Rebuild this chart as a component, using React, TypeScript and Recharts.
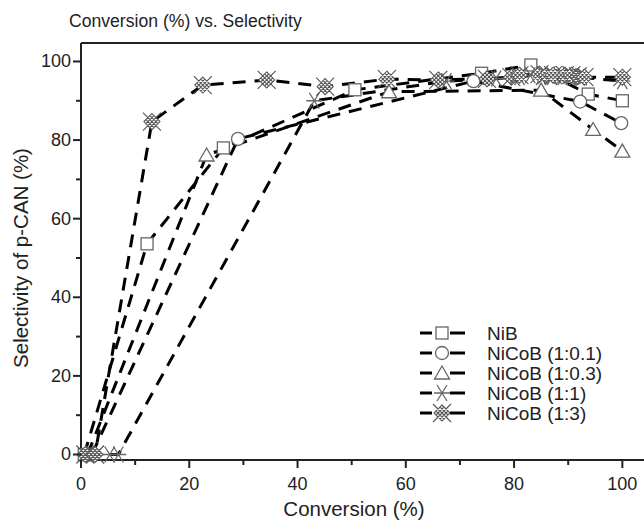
import React from "react";
import { LineChart, Line, XAxis, YAxis, ReferenceLine } from "recharts";

const FONT = "'Liberation Sans', Arial, Helvetica, sans-serif";
const TXT = "#222";
const MK = "#666";

const xTicks = [0, 10, 20, 30, 40, 50, 60, 70, 80, 90, 100];
const yTicks = [0, 10, 20, 30, 40, 50, 60, 70, 80, 90, 100];

const nibX = [0.6, 12.2, 26.3, 50.6, 74, 83.1, 93.7, 100];
const nibY = [0, 53.6, 78, 92.8, 97, 99.1, 91.7, 90];

const c01X = [2, 29, 72.5, 92.2, 99.8];
const c01Y = [0, 80.3, 95, 89.8, 84.3];

const c03X = [1.2, 23.2, 56.9, 85, 94.6, 100];
const c03Y = [0, 76.2, 92.3, 92.7, 82.7, 77.2];

const c11X = [5.3, 6.9, 43.1, 67.5, 76.7, 81, 83, 85, 87, 89, 90.5, 92, 100];
const c11Y = [0, 0, 90, 95, 95.7, 96, 96.5, 96, 96, 96, 96, 96, 95];

const c13X = [0.8, 2.6, 13.1, 22.5, 34.3, 45.1, 56.5, 66, 75, 79.5, 81, 84.7, 86, 87.2, 89.4, 90.6, 91.8, 93, 100];
const c13Y = [0, 0, 84.7, 94, 95.3, 93.6, 95.5, 95.3, 95.6, 96, 96.5, 96.8, 96.5, 96.5, 96.5, 96.5, 96.2, 96, 96];

const seriesNames = ["NiB", "NiCoB (1:0.1)", "NiCoB (1:0.3)", "NiCoB (1:1)", "NiCoB (1:3)"];

const toPts = (xs: number[], ys: number[]) => xs.map((x, i) => ({ x, y: ys[i] }));

type Kind = "square" | "circle" | "triangle" | "star" | "hatch";

function Marker({ cx, cy, kind }: { cx: number; cy: number; kind: Kind }) {
  if (kind === "square")
    return <rect x={cx - 6} y={cy - 6} width={12} height={12} fill="#fff" stroke={MK} strokeWidth={1.3} />;
  if (kind === "circle") return <circle cx={cx} cy={cy} r={6.5} fill="#fff" stroke={MK} strokeWidth={1.3} />;
  if (kind === "triangle")
    return (
      <path
        d={`M${cx},${cy - 7} L${cx + 7.5},${cy + 6} L${cx - 7.5},${cy + 6} Z`}
        fill="#fff"
        stroke={MK}
        strokeWidth={1.3}
      />
    );
  if (kind === "star")
    return (
      <path
        d={`M${cx - 8},${cy} L${cx + 8},${cy} M${cx - 5},${cy - 8} L${cx + 5},${cy + 8} M${cx + 5},${cy - 8} L${cx - 5},${cy + 8}`}
        stroke={MK}
        strokeWidth={1.3}
        fill="none"
      />
    );
  const s = 8;
  const q = s / 2;
  return (
    <path
      d={`M${cx - 9},${cy - 9} L${cx + 9},${cy + 9} M${cx + 9},${cy - 9} L${cx - 9},${cy + 9}
          M${cx},${cy - s} L${cx + s},${cy} L${cx},${cy + s} L${cx - s},${cy} Z
          M${cx - s + q / 2},${cy - q / 2} L${cx + q / 2},${cy + s - q / 2}
          M${cx - q / 2},${cy - s + q / 2} L${cx + s - q / 2},${cy + q / 2}
          M${cx + s - q / 2},${cy - q / 2} L${cx - q / 2},${cy + s - q / 2}
          M${cx + q / 2},${cy - s + q / 2} L${cx - s + q / 2},${cy + q / 2}`}
      stroke="#555"
      strokeWidth={1.1}
      fill="#fff"
    />
  );
}

const kinds: Kind[] = ["square", "circle", "triangle", "star", "hatch"];
const datas = [toPts(nibX, nibY), toPts(c01X, c01Y), toPts(c03X, c03Y), toPts(c11X, c11Y), toPts(c13X, c13Y)];

const XTick = (props: any) => {
  const { x, y, payload } = props;
  const v = payload.value as number;
  const major = v % 20 === 0;
  return (
    <g>
      <line x1={x} y1={y} x2={x} y2={y + (major ? 8 : 5)} stroke={TXT} strokeWidth={2} />
      {major && (
        <text x={x} y={y + 30} textAnchor="middle" fontSize={18} fill={TXT} fontFamily={FONT}>
          {v}
        </text>
      )}
    </g>
  );
};

const YTick = (props: any) => {
  const { x, y, payload } = props;
  const v = payload.value as number;
  const major = v % 20 === 0;
  return (
    <g>
      <line x1={x} y1={y} x2={x - (major ? 8 : 5)} y2={y} stroke={TXT} strokeWidth={2} />
      {major && (
        <text x={x - 10} y={y + 6} textAnchor="end" fontSize={18} fill={TXT} fontFamily={FONT}>
          {v}
        </text>
      )}
    </g>
  );
};

const LegendBlock = () => (
  <g transform="translate(420,325)">
    {seriesNames.map((n, i) => {
      const cy = 8 + i * 20;
      return (
        <g key={n}>
          <line x1={0} y1={cy} x2={12} y2={cy} stroke="#000" strokeWidth={3} />
          <line x1={30} y1={cy} x2={45} y2={cy} stroke="#000" strokeWidth={3} />
          <Marker cx={22} cy={cy} kind={kinds[i]} />
          <text x={67} y={cy + 7} fontSize={19} fill={TXT} fontFamily={FONT}>
            {n}
          </text>
        </g>
      );
    })}
  </g>
);

export default function App() {
  return (
    <div style={{ position: "absolute", left: 0, top: 0, width: 644, height: 522, background: "#fff" }}>
      <LineChart width={644} height={522} margin={{ top: 43, right: 0, bottom: 0, left: 0 }}>
        <text x={69} y={27} fontSize={17.6} fill={TXT} fontFamily={FONT}>
          Conversion (%) vs. Selectivity
        </text>
        <XAxis
          type="number"
          dataKey="x"
          domain={[0, 104]}
          ticks={xTicks}
          interval={0}
          height={62}
          tickSize={0}
          tickMargin={0}
          tick={<XTick />}
          tickLine={false}
          axisLine={{ stroke: TXT, strokeWidth: 2 }}
          allowDuplicatedCategory={false}
        />
        <YAxis
          type="number"
          dataKey="y"
          domain={[-1.4, 104.7]}
          ticks={yTicks}
          interval={0}
          width={81}
          tickSize={0}
          tickMargin={0}
          tick={<YTick />}
          tickLine={false}
          axisLine={{ stroke: TXT, strokeWidth: 2 }}
        />
        <ReferenceLine y={104.7} stroke={TXT} strokeWidth={2} />
        {datas.map((d, i) => (
          <Line
            key={seriesNames[i]}
            name={seriesNames[i]}
            data={d}
            dataKey="y"
            type="linear"
            stroke="#000"
            strokeWidth={3}
            strokeDasharray="13 9"
            isAnimationActive={false}
            dot={(p: any) => <Marker key={`${i}-${p.index}`} cx={p.cx} cy={p.cy} kind={kinds[i]} />}
            activeDot={false}
          />
        ))}
        <LegendBlock />
        <text
          x={28}
          y={258}
          transform="rotate(-90 28 258)"
          textAnchor="middle"
          fontSize={20.5}
          fill={TXT}
          fontFamily={FONT}
        >
          Selectivity of p-CAN (%)
        </text>
        <text x={354} y={516} textAnchor="middle" fontSize={20.5} fill={TXT} fontFamily={FONT}>
          Conversion (%)
        </text>
      </LineChart>
    </div>
  );
}
